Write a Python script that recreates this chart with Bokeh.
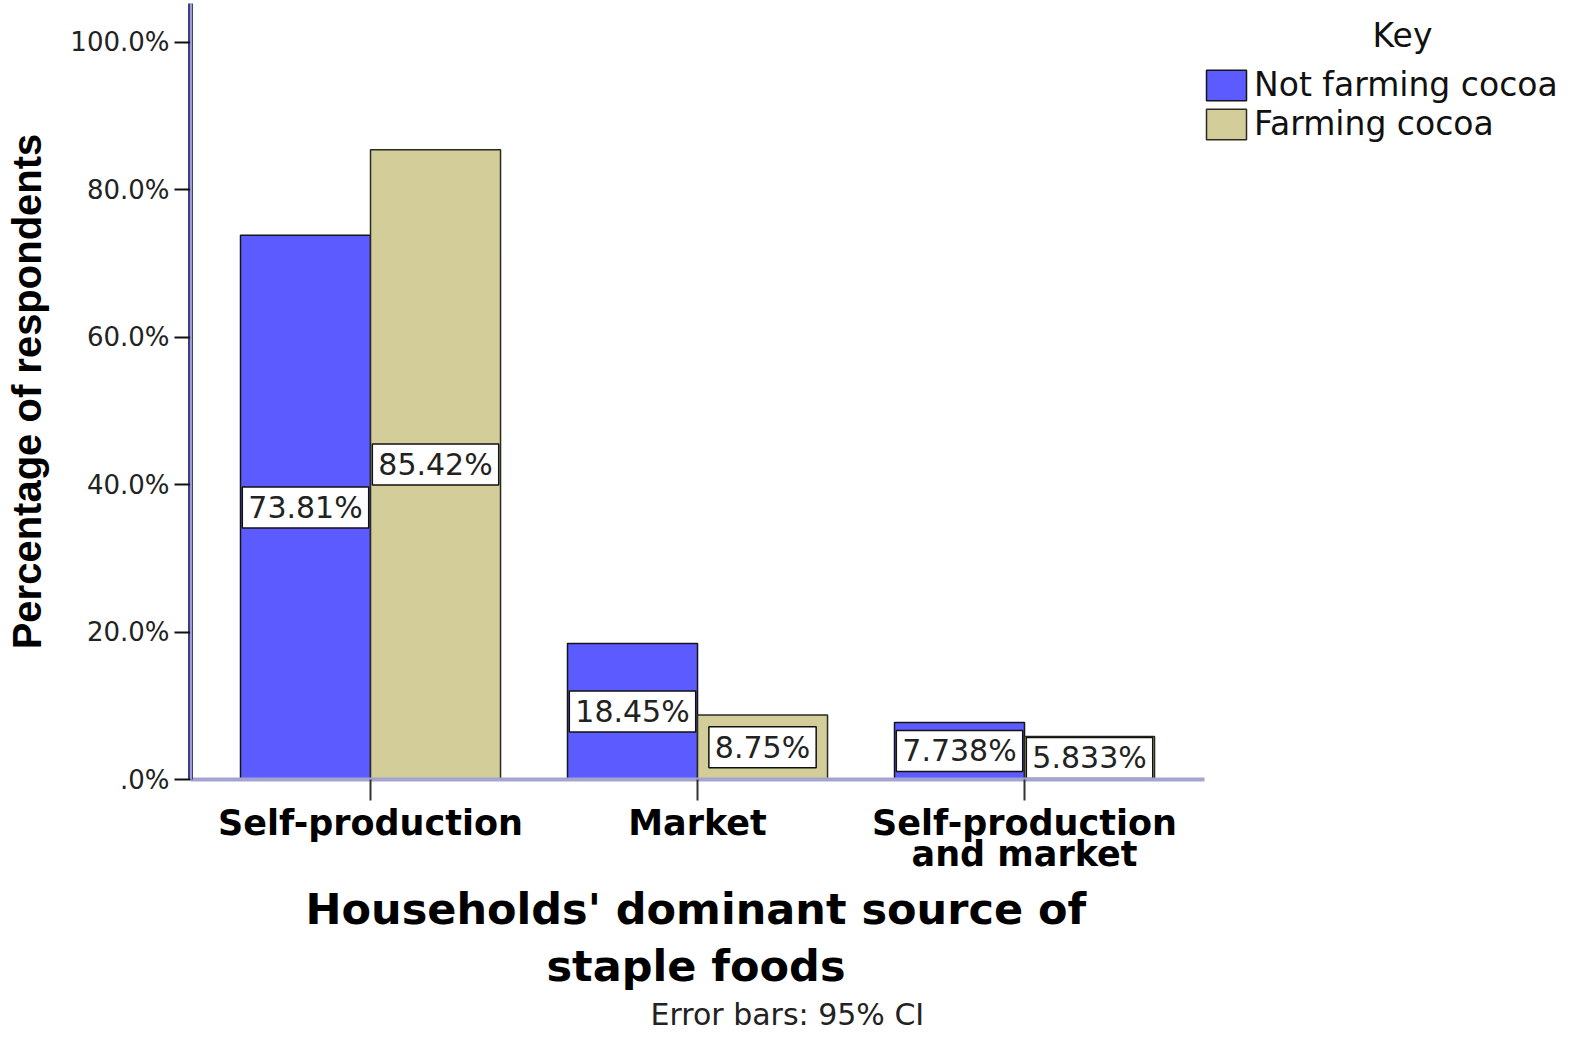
from bokeh.plotting import figure
from bokeh.models import (ColumnDataSource, FixedTicker, Span, Legend, LegendItem,
                          Label, Title, Range1d)
from bokeh.transform import dodge
from bokeh.embed import file_html
from bokeh.resources import INLINE
from bokeh.core.properties import value

# ---------------- data ----------------
categories = ["Self-production", "Market", "Self-production\nand market"]
series_names = ["Not farming cocoa", "Farming cocoa"]
not_farming = [73.81, 18.45, 7.738]
farming = [85.42, 8.75, 5.833]
not_farming_labels = ["73.81%", "18.45%", "7.738%"]
farming_labels = ["85.42%", "8.75%", "5.833%"]
y_ticks = [0, 20, 40, 60, 80, 100]
y_tick_labels = [".0%", "20.0%", "40.0%", "60.0%", "80.0%", "100.0%"]
y_title = "Percentage of respondents"
x_title_lines = ["Households' dominant source of", "staple foods"]
footnote = "Error bars: 95% CI"
legend_title = "Key"

# ---------------- style ----------------
colors = ["#5b5bff", "#d3cd99"]
outlines = ["#151515", "#2a2a22"]
BAR_W = 0.3976
OFF = BAR_W / 2
FONT = "DejaVu Sans"
X0, X1 = -0.5505, 2.5505       # extent of the category axis
X_END = 3.74                   # frame continues right to hold the key
x_title_offsets = [115, 356]   # px from frame left, centres each line under the axis

idx = list(range(len(categories)))
src = ColumnDataSource(dict(
    x=idx,
    nf=not_farming, f=farming,
    nf_mid=[v / 2 for v in not_farming], f_mid=[v / 2 for v in farming],
    nf_lab=not_farming_labels, f_lab=farming_labels,
))

p = figure(width=1593, height=1038,
           x_range=Range1d(X0, X_END), y_range=Range1d(0, 105.25),
           output_backend="svg", toolbar_location=None,
           min_border_left=190, min_border_right=0,
           min_border_top=3, min_border_bottom=259)
p.outline_line_color = None
p.xgrid.visible = False
p.ygrid.visible = False

r1 = p.vbar(x=dodge("x", -OFF, range=p.x_range), top="nf", width=BAR_W, source=src,
            fill_color=colors[0], line_color=outlines[0], line_width=1.5)
r2 = p.vbar(x=dodge("x", OFF, range=p.x_range), top="f", width=BAR_W, source=src,
            fill_color=colors[1], line_color=outlines[1], line_width=1.5)

label_kw = dict(text_font=value(FONT), text_font_size="30px", text_align="center",
                text_baseline="middle", text_color="#222222",
                background_fill_color="white", border_line_color="#111111",
                border_line_width=1.5, padding=dict(left=6, right=6, top=3, bottom=3))
p.text(x=dodge("x", -OFF, range=p.x_range), y="nf_mid", text="nf_lab", source=src, **label_kw)
p.text(x=dodge("x", OFF, range=p.x_range), y="f_mid", text="f_lab", source=src, **label_kw)

# y axis
yax = p.yaxis[0]
yax.ticker = FixedTicker(ticks=y_ticks)
yax.major_label_overrides = dict(zip(y_ticks, y_tick_labels))
yax.minor_tick_line_color = None
yax.major_tick_out = 16
yax.major_tick_in = 0
yax.major_tick_line_width = 2
yax.major_tick_line_color = "#111111"
yax.major_label_text_font = FONT
yax.major_label_text_font_size = "26px"
yax.major_label_text_color = "#222222"
yax.major_label_standoff = 5
yax.axis_line_color = "#3c3c8c"
yax.axis_line_width = 5
yax.axis_label = y_title
yax.axis_label_text_font = "Liberation Sans"
yax.axis_label_text_font_style = "bold"
yax.axis_label_text_font_size = "40px"
yax.axis_label_text_color = "black"
yax.axis_label_standoff = 18

p.add_layout(Span(location=X0, dimension="height", line_color="white", line_width=2))

# x axis
xax = p.xaxis[0]
xax.bounds = (X0, X1)
xax.ticker = FixedTicker(ticks=idx)
xax.major_label_overrides = dict(zip(idx, categories))
xax.minor_tick_line_color = None
xax.major_tick_out = 21
xax.major_tick_in = 0
xax.major_tick_line_width = 2
xax.major_tick_line_color = "#333333"
xax.major_label_text_font = FONT
xax.major_label_text_font_style = "bold"
xax.major_label_text_font_size = "35px"
xax.major_label_text_color = "black"
xax.major_label_text_line_height = 0.78
xax.major_label_standoff = 2
xax.axis_line_color = "#a4a4d0"
xax.axis_line_width = 4

title_kw = dict(align="left", text_font=FONT, text_font_size="43px",
                text_font_style="bold", text_color="black", text_line_height=0.85)
p.add_layout(Title(text=x_title_lines[0], offset=x_title_offsets[0], standoff=10, **title_kw), "below")
p.add_layout(Title(text=x_title_lines[1], offset=x_title_offsets[1], standoff=0, **title_kw), "below")

p.add_layout(Title(text=footnote, align="left", offset=460, text_font=FONT,
                   text_font_size="30px", text_font_style="normal",
                   text_color="#222222", standoff=8), "below")

legend = Legend(items=[LegendItem(label=series_names[0], renderers=[r1]),
                       LegendItem(label=series_names[1], renderers=[r2])],
                location=(1011, 636), glyph_width=50, glyph_height=38,
                label_text_font=FONT, label_text_font_size="33px",
                label_text_color="#111111", label_standoff=3, spacing=0,
                padding=4, margin=0, border_line_color=None,
                background_fill_alpha=0)
p.add_layout(legend)

p.add_layout(Label(x=1212, y=744, x_units="screen", y_units="screen", text=legend_title,
                   text_font=FONT, text_font_size="33px", text_align="center",
                   text_baseline="middle", text_color="#111111"))

open("out.html", "w").write(file_html(p, INLINE))
